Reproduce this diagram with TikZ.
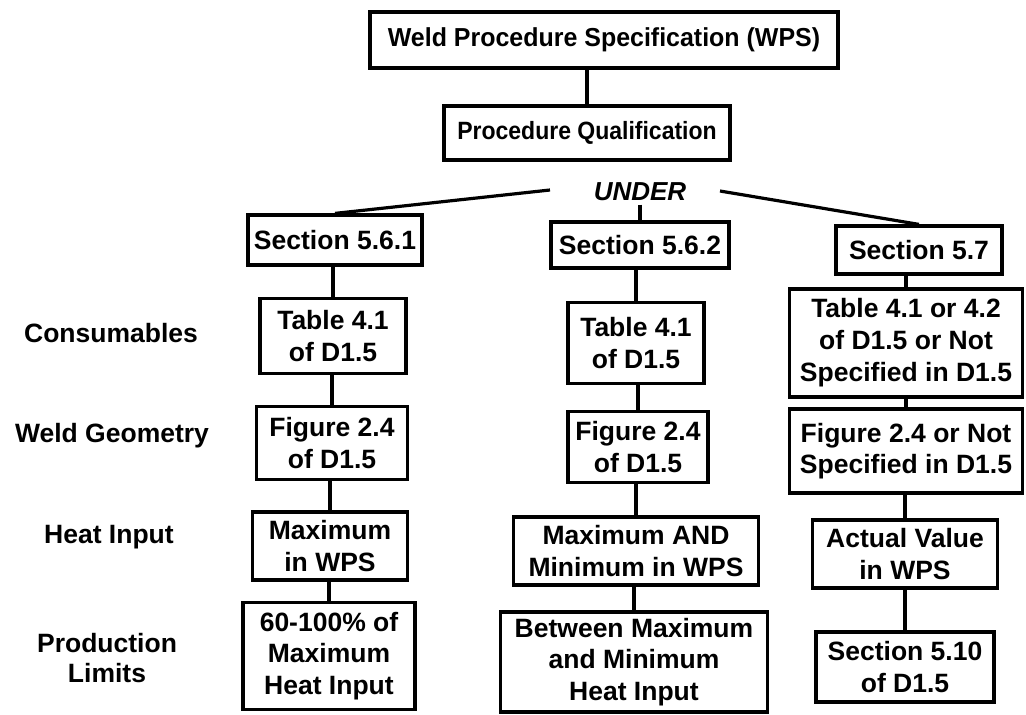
\documentclass[tikz,border=0pt]{standalone}
\usepackage{fontspec}
\setmainfont{Liberation Sans}
\newfontfamily\headA{Liberation Sans}[FakeStretch=0.96]
\newfontfamily\headB{Liberation Sans}[FakeStretch=0.92]
\begin{document}
\begin{tikzpicture}[x=1pt,y=-1pt,
  box/.style={draw, line width=3.2pt, align=center, inner sep=0pt,
    font=\bfseries\fontsize{26.5}{31.5}\selectfont},
  lab/.style={align=center, font=\bfseries\fontsize{26.5}{30}\selectfont},
  link/.style={line width=3.2pt}]
\useasboundingbox (0,0) rectangle (1026,715);
\fill[white] (0,0) rectangle (1026,715);

% top of the tree
\node[box, minimum width=468, minimum height=56, font=\headA\bfseries\fontsize{26}{30}\selectfont] (wps) at (604,40) {Weld Procedure Specification (WPS)};
\node[box, minimum width=286, minimum height=54, font=\headB\bfseries\fontsize{25}{30}\selectfont] (pq) at (587,133) {Procedure Qualification};
\node[lab, font=\bfseries\itshape\fontsize{26}{30}\selectfont] (under) at (640,192) {UNDER};
\coordinate (ul) at (550,190);
\coordinate (ur) at (720,191);

% sections
\node[box, minimum width=174, minimum height=50] (s1) at (335,240) {Section 5.6.1};
\node[box, minimum width=178, minimum height=46] (s2) at (640,245) {Section 5.6.2};
\node[box, minimum width=166, minimum height=48] (s3) at (919,250) {Section 5.7};

% row labels
\node[lab] (lc) at (111,333) {Consumables};
\node[lab] (lg) at (112,436) {Weld Geometry};
\node[lab] (lh) at (109,537) {Heat Input};
\node[lab] (lp) at (107,658) {Production\\Limits};

% column 5.6.1
\node[box, minimum width=146, minimum height=75] (a1) at (333,336) {Table 4.1\\of D1.5};
\node[box, minimum width=151, minimum height=73] (a2) at (332,443) {Figure 2.4\\of D1.5};
\node[box, minimum width=155, minimum height=68] (a3) at (330,546) {Maximum\\in WPS};
\node[box, minimum width=172, minimum height=107] (a4) at (329,656) {60-100\% of\\Maximum\\Heat Input};

% column 5.6.2
\node[box, minimum width=136, minimum height=81] (b1) at (636,343) {Table 4.1\\of D1.5};
\node[box, minimum width=140, minimum height=71] (b2) at (638,447) {Figure 2.4\\of D1.5};
\node[box, minimum width=245, minimum height=68] (b3) at (636,551) {Maximum AND\\Minimum in WPS};
\node[box, minimum width=267, minimum height=100] (b4) at (634,662) {Between Maximum\\and Minimum\\Heat Input};

% column 5.7
\node[box, minimum width=233, minimum height=108, font=\bfseries\fontsize{26.5}{32}\selectfont] (c1) at (906,343) {Table 4.1 or 4.2\\of D1.5 or Not\\Specified in D1.5};
\node[box, minimum width=233, minimum height=84] (c2) at (906,451) {Figure 2.4 or Not\\Specified in D1.5};
\node[box, minimum width=185, minimum height=68] (c3) at (905,554) {Actual Value\\in WPS};
\node[box, minimum width=178, minimum height=70] (c4) at (905,667) {Section 5.10\\of D1.5};

% connectors
\draw[link] (pq.north) -- (pq.north |- wps.south);
\draw[link] (s1.north) -- (ul);
\draw[link] (ur) -- (s3.north);
\draw[link] (under.south) -- (under.south |- s2.north);
\foreach \u/\v in {s1/a1, a1/a2, a2/a3, a3/a4, s2/b1, b1/b2, b2/b3, b3/b4, s3/c1, c1/c2, c2/c3, c3/c4}
  \draw[link] (\v.north) -- (\v.north |- \u.south);
\end{tikzpicture}
\end{document}
